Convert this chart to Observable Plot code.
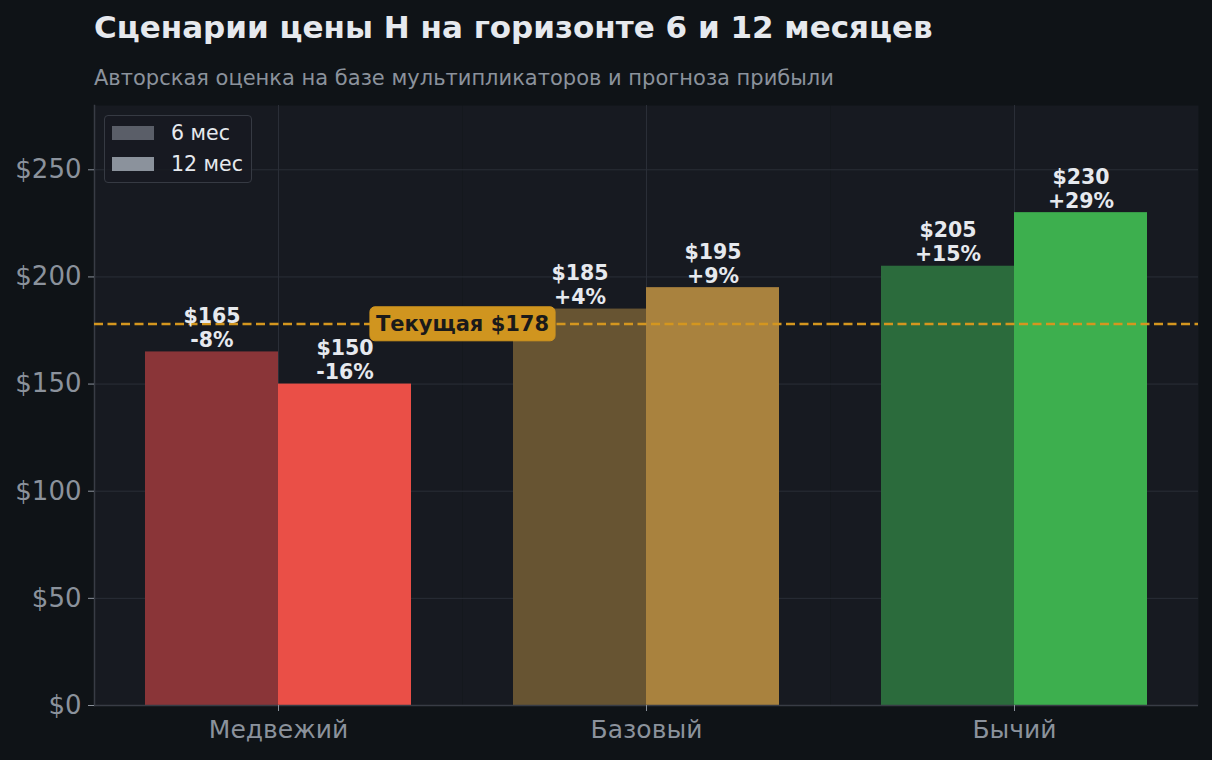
<!DOCTYPE html>
<html>
<head>
<meta charset="utf-8">
<script src="https://cdn.jsdelivr.net/npm/d3@7"></script>
<script src="https://cdn.jsdelivr.net/npm/@observablehq/plot@0.6"></script>
<style>
  html, body { margin: 0; padding: 0; background: #0f1317; }
  #wrap { position: relative; width: 1212px; height: 760px; background: #0f1317; font-family: "DejaVu Sans", sans-serif; overflow: hidden; }
  #title { position: absolute; left: 94px; top: 9px; font-size: 31px; font-weight: bold; color: #e6e9ee; white-space: nowrap; }
  #subtitle { position: absolute; left: 94px; top: 66px; font-size: 21px; color: #8b929c; white-space: nowrap; }
  #chart { position: absolute; left: 0; top: 100px; }
  #legend { position: absolute; left: 104px; top: 115px; width: 146px; height: 66px; border: 1px solid #363a43; border-radius: 4px; background: rgba(23,26,33,0.85); }
  .li { position: absolute; left: 7px; height: 22px; display: flex; align-items: center; font-size: 20.5px; color: #e6e9ee; white-space: nowrap; }
  .sw { width: 42px; height: 14px; margin-right: 17px; }
</style>
</head>
<body>
<div id="wrap">
  <div id="title">Сценарии цены H на горизонте 6 и 12 месяцев</div>
  <div id="subtitle">Авторская оценка на базе мультипликаторов и прогноза прибыли</div>
  <div id="chart"></div>
  <div id="legend"></div>
</div>
<script>
// ---- data ----
const categories = ["Медвежий", "Базовый", "Бычий"];
const series = ["6 мес", "12 мес"];
const values6 = [165, 185, 205];
const values12 = [150, 195, 230];
const pct6 = ["-8%", "+4%", "+15%"];
const pct12 = ["-16%", "+9%", "+29%"];
const currentPrice = 178;
const yTicks = [0, 50, 100, 150, 200, 250];
// ---- styles ----
const colors6 = ["#8a3538", "#675432", "#2b6b3c"];
const colors12 = ["#ea4f47", "#a9823e", "#3daf4e"];
const legendColors = ["#5a5e68", "#8b929c"];

const rows = [];
categories.forEach((c, i) => {
  rows.push({cat: c, series: series[0], value: values6[i], pct: pct6[i], color: colors6[i]});
  rows.push({cat: c, series: series[1], value: values12[i], pct: pct12[i], color: colors12[i]});
});

const plot = Plot.plot({
  width: 1212,
  height: 660,
  marginTop: 5,
  marginBottom: 55,
  marginLeft: 94,
  marginRight: 14,
  style: {background: "transparent", color: "#8b929c", fontFamily: "DejaVu Sans, sans-serif", fontSize: "25px"},
  fx: {domain: categories, padding: 0, label: null, axis: null},
  x: {domain: series, paddingInner: 0, paddingOuter: 0.382, axis: null},
  y: {domain: [0, 280], axis: null},
  marks: [
    Plot.frame({fill: "#171a21"}),
    Plot.gridY(yTicks, {stroke: "#2a2e37", strokeOpacity: 1, strokeWidth: 1}),
    Plot.gridFx({stroke: "#2a2e37", strokeOpacity: 1, strokeWidth: 1}),
    Plot.barY(rows, {fx: "cat", x: "series", y: "value", fill: "color"}),
    Plot.ruleY([0], {stroke: "#383c45", strokeWidth: 1.5}),
    Plot.frame({anchor: "left", facetAnchor: "left", stroke: "#383c45", strokeWidth: 1.5}),
    Plot.ruleY([currentPrice], {stroke: "#d4961f", strokeWidth: 2.5, strokeDasharray: "9,4.5"}),
    Plot.text(rows, {
      fx: "cat", x: "series", y: "value",
      text: d => "$" + d.value + "\n" + d.pct,
      lineAnchor: "bottom", dy: -5, lineHeight: 1.17,
      fill: "#e6e9ee", fontWeight: "bold", fontSize: 20.5
    }),
    Plot.text([{cat: categories[0], v: currentPrice}], {
      fx: "cat", y: "v", frameAnchor: "right", textAnchor: "middle",
      text: d => "Текущая $" + d.v,
      fill: "#1a1a1a", fontWeight: "bold", fontSize: 21,
      className: "cur-label"
    }),
    Plot.axisY(yTicks, {tickFormat: d => "$" + d, tickSize: 6, tickPadding: 7, stroke: "#8b929c", fill: "#8b929c", fontSize: 26, label: null}),
    Plot.axisFx({anchor: "bottom", tickSize: 6, tickPadding: 9, stroke: "#8b929c", fill: "#8b929c", fontSize: 25, label: null})
  ]
});
document.getElementById("chart").appendChild(plot);

// background box for the current-price label, sized from the text
d3.select(plot).selectAll(".cur-label text").each(function() {
  const b = this.getBBox();
  const r = d3.select(this.parentNode).insert("rect", () => this)
    .attr("x", b.x - 6).attr("y", b.y - 5)
    .attr("width", b.width + 12).attr("height", b.height + 10)
    .attr("rx", 5).attr("fill", "#d0951f").attr("stroke", "#d0951f");
  const t = this.getAttribute("transform");
  if (t) r.attr("transform", t);
});

// legend
const lg = document.getElementById("legend");
series.forEach((s, i) => {
  const it = document.createElement("div");
  it.className = "li";
  it.style.top = (6 + i * 31) + "px";
  it.innerHTML = `<div class="sw" style="background:${legendColors[i]}"></div><span>${s}</span>`;
  lg.appendChild(it);
});
</script>
</body>
</html>
